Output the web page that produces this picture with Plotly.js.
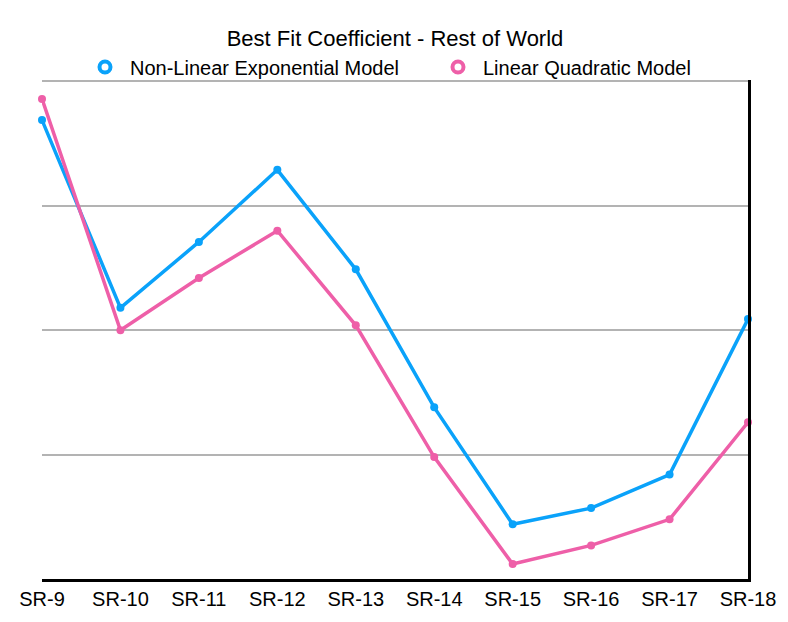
<!DOCTYPE html>
<html>
<head>
<meta charset="utf-8">
<script src="https://cdn.plot.ly/plotly-3.0.1.min.js"></script>
<style>html,body{margin:0;padding:0;background:#fff;}#chart{width:788px;height:622px;}</style>
</head>
<body>
<div id="chart"></div>
<script>
const categories = ["SR-9","SR-10","SR-11","SR-12","SR-13","SR-14","SR-15","SR-16","SR-17","SR-18"];
const nonLinearExp = [3.69, 2.18, 2.71, 3.29, 2.49, 1.38, 0.44, 0.57, 0.84, 2.09];
const linearQuad   = [3.86, 2.00, 2.42, 2.80, 2.04, 0.98, 0.12, 0.27, 0.48, 1.26];
const seriesNames = ["Non-Linear Exponential Model", "Linear Quadratic Model"];
const colors = ["#0aa2fa", "#ee5fa8"];

const fontFam = "Liberation Sans, Arial, Helvetica, sans-serif";
const seriesVals = [nonLinearExp, linearQuad];
const legendIds = ["legend", "legend2"];
const data = [];
seriesVals.forEach((vals, i) => {
  data.push({
    type: "scatter", mode: "lines+markers",
    x: categories, y: vals, name: seriesNames[i],
    line: {color: colors[i], width: 3.5},
    marker: {color: colors[i], size: 8},
    cliponaxis: false, showlegend: false, hoverinfo: "x+y"
  });
});
seriesVals.forEach((vals, i) => {
  data.push({
    type: "scatter", mode: "markers",
    x: [null], y: [null], name: seriesNames[i], legend: legendIds[i],
    marker: {color: colors[i], size: 11, symbol: "circle-open", line: {color: colors[i], width: 4}},
    showlegend: true
  });
});

const legendBase = {orientation: "h", xanchor: "left", y: 1.026, yanchor: "middle",
  font: {family: fontFam, size: 20, color: "#000"}, itemwidth: 40, bgcolor: "rgba(0,0,0,0)"};

const layout = {
  width: 788, height: 622,
  margin: {l: 42, r: 40, t: 79.5, b: 43, pad: 0},
  paper_bgcolor: "#fff", plot_bgcolor: "#fff",
  font: {family: fontFam, color: "#000", size: 20},
  title: {text: "Best Fit Coefficient - Rest of World", x: 0.5, xref: "paper", xanchor: "center",
          y: 1 - 38/622, yref: "container", yanchor: "middle",
          font: {family: fontFam, size: 22, color: "#000"}},
  showlegend: true,
  legend: Object.assign({}, legendBase, {x: (80 - 42) / 706}),
  legend2: Object.assign({}, legendBase, {x: (433 - 42) / 706}),
  xaxis: {type: "category", range: [0, 9], showgrid: false, zeroline: false,
          showline: true, linecolor: "#000", linewidth: 2.5, ticks: "",
          tickfont: {family: fontFam, size: 20, color: "#000"}, fixedrange: true},
  yaxis: {range: [0, 4.012], dtick: 1, showgrid: true, gridcolor: "#b3b3b3", gridwidth: 2,
          zeroline: false, showticklabels: false, ticks: "", side: "right",
          showline: true, linecolor: "#000", linewidth: 2.5, fixedrange: true}
};

Plotly.newPlot("chart", data, layout, {displayModeBar: false, staticPlot: true});
</script>
</body>
</html>
